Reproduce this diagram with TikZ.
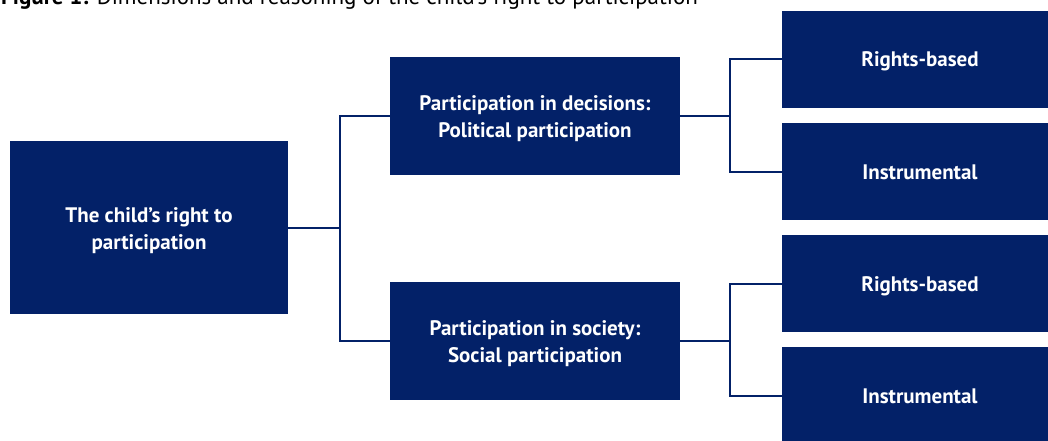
\documentclass[tikz,border=0pt]{standalone}
\usepackage{fontspec}
\setmainfont{PT Sans}
\definecolor{navy}{RGB}{3,33,104}

\begin{document}
\begin{tikzpicture}[
  x=1pt, y=-1pt,
  box/.style={fill=navy, text=white, align=center, inner sep=0pt,
              font=\fontsize{21}{27}\selectfont\bfseries},
  leaf/.style={box, minimum width=276pt, minimum height=97pt,
               text height=19pt, text depth=4pt},
  mid/.style={box, minimum width=290pt, minimum height=118pt},
  link/.style={draw=navy, line width=2pt},
]

% Page frame
\useasboundingbox (0,0) rectangle (1048,441);
\clip (0,0) rectangle (1048,441);

% Caption (cut by the top edge)
\node[anchor=base west, inner sep=0pt, font=\fontsize{23}{28}\selectfont] (caption) at (1,5)
  {\textbf{Figure 1:} Dimensions and reasoning of the child's right to participation};

% === Root ===
\node[box, minimum width=278pt, minimum height=173pt] (child) at (149,227.5)
  {\rule{0pt}{21pt}The child's right to\\participation};

% === Dimensions ===
\node[mid] (dec) at (535,116) {\rule{0pt}{21pt}Participation in decisions:\\Political participation};
\node[mid] (soc) at (535,341) {\rule{0pt}{21pt}Participation in society:\\Social participation};

% === Reasoning ===
\node[leaf] (decrb) at (920,59.5)  {Rights-based};
\node[leaf] (decin) at (920,171.5) {Instrumental};
\node[leaf] (socrb) at (920,283.5) {Rights-based};
\node[leaf] (socin) at (920,395.5) {Instrumental};

% Connectors
\draw[link] (child.east) -- ++(52,0) coordinate (fork1);
\draw[link] (dec.west) -| (fork1) |- (soc.west);

\draw[link] (dec.east) -- ++(50,0) coordinate (fork2);
\draw[link] (decrb.west) -| (fork2) |- (decin.west);

\draw[link] (soc.east) -- ++(50,0) coordinate (fork3);
\draw[link] (socrb.west) -| (fork3) |- (socin.west);

\end{tikzpicture}
\end{document}
